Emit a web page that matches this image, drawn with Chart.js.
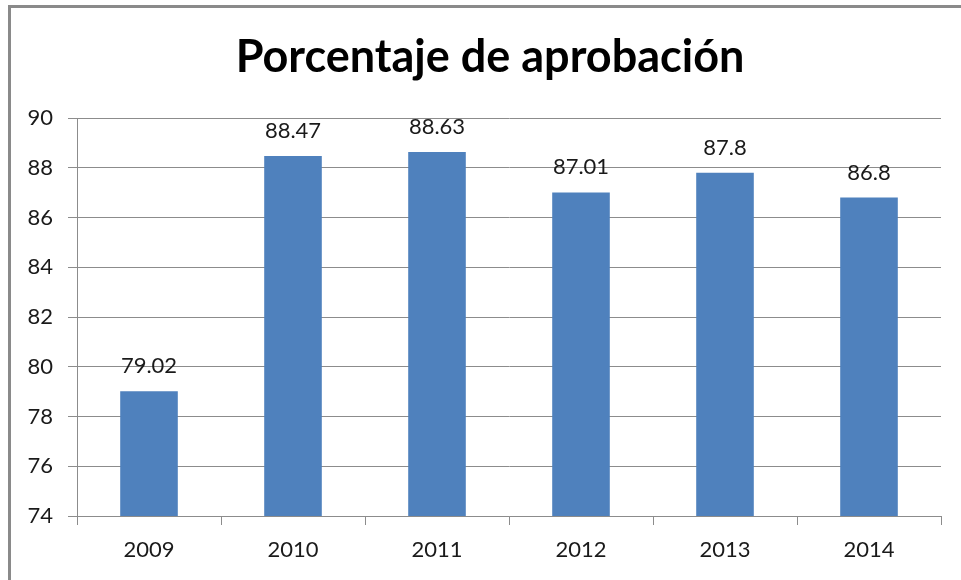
<!DOCTYPE html>
<html>
<head>
<meta charset="utf-8">
<script src="https://cdn.jsdelivr.net/npm/chart.js@4"></script>
<style>
  html, body { margin: 0; padding: 0; background: #fff; }
  #wrap { position: relative; width: 961px; height: 580px; }
  #frame { position: absolute; left: 8px; top: 5px; right: 0; bottom: 0; border-top: 3px solid #8a8a8a; border-left: 3px solid #8a8a8a; pointer-events: none; }
  canvas { position: absolute; left: 0; top: 0; }
</style>
</head>
<body>
<div id="wrap">
  <canvas id="c" width="961" height="580"></canvas>
  <div id="frame"></div>
</div>
<script>
const categories = ["2009", "2010", "2011", "2012", "2013", "2014"];
const values = [79.02, 88.47, 88.63, 87.01, 87.8, 86.8];
const labels = ["79.02", "88.47", "88.63", "87.01", "87.8", "86.8"];
const titleText = "Porcentaje de aprobación";

const FONT = "Lato, 'Open Sans', sans-serif";

const valueLabels = {
  id: 'valueLabels',
  afterDatasetsDraw(chart) {
    const ctx = chart.ctx;
    const meta = chart.getDatasetMeta(0);
    ctx.save();
    ctx.font = "22px " + FONT;
    ctx.fillStyle = "#1a1a1a";
    ctx.textAlign = "center";
    ctx.textBaseline = "alphabetic";
    meta.data.forEach((bar, i) => {
      ctx.fillText(labels[i], bar.x, bar.y - 18);
    });
    ctx.restore();
  }
};

const chartTitle = {
  id: 'chartTitle',
  afterDraw(chart) {
    const ctx = chart.ctx;
    ctx.save();
    ctx.font = "bold 45px " + FONT;
    ctx.fillStyle = "#000";
    ctx.textAlign = "center";
    ctx.textBaseline = "alphabetic";
    ctx.fillText(titleText, 490, 72);
    ctx.restore();
  }
};

new Chart(document.getElementById('c'), {
  type: 'bar',
  data: {
    labels: categories,
    datasets: [{
      data: values,
      backgroundColor: '#4F81BD',
      borderWidth: 0,
      barPercentage: 0.4,
      categoryPercentage: 1.0
    }]
  },
  options: {
    responsive: false,
    animation: false,
    layout: { padding: { left: 10, right: 20, top: 118, bottom: 14 } },
    plugins: {
      legend: { display: false },
      tooltip: { enabled: false },
      title: { display: false }
    },
    scales: {
      x: {
        grid: { offset: true, drawOnChartArea: false, drawTicks: true, tickLength: 9, color: '#8c8c8c', lineWidth: 1 },
        border: { color: '#8c8c8c', width: 1 },
        ticks: { color: '#1a1a1a', font: { family: FONT, size: 22 }, padding: 12 },
        afterFit(scale) { scale.height = 50; }
      },
      y: {
        min: 74, max: 90,
        ticks: { stepSize: 2, color: '#1a1a1a', font: { family: FONT, size: 22 }, padding: 15 },
        grid: { color: '#8c8c8c', lineWidth: 1, tickLength: 9 },
        border: { color: '#8c8c8c', width: 1 },
        afterFit(scale) { scale.width = 67; }
      }
    }
  },
  plugins: [valueLabels, chartTitle]
});
</script>
</body>
</html>
